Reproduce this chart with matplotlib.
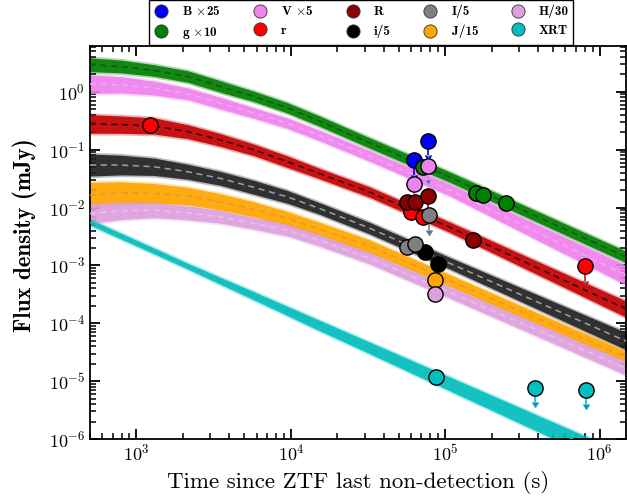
import numpy as np
import matplotlib.pyplot as plt
from matplotlib.lines import Line2D
from matplotlib.ticker import LogLocator, FuncFormatter, NullFormatter

plt.rcParams['mathtext.fontset'] = 'cm'
plt.rcParams['axes.formatter.use_mathtext'] = True

# ---- model bands (median flux in mJy, half width of band in dex) ----
t_model = [500, 800, 1300, 2150, 3500, 5800, 9500, 15400, 32400, 107000, 1.5e6]

g_med = [2.94, 2.74, 2.34, 1.84, 1.236, 0.829, 0.528, 0.31, 0.1306, 0.0336, 0.00138]
g_wid = [0.12, 0.11, 0.10, 0.10, 0.10, 0.09, 0.09, 0.09, 0.09, 0.09, 0.10]
v_med = [1.36, 1.32, 1.16, 0.923, 0.637, 0.428, 0.287, 0.175, 0.0778, 0.0200, 0.00067]
v_wid = [0.16, 0.14, 0.12, 0.10, 0.10, 0.09, 0.09, 0.09, 0.09, 0.10, 0.17]
r_med = [0.279, 0.271, 0.257, 0.205, 0.147, 0.0988, 0.0620, 0.0385, 0.0185, 0.00457, 0.000173]
r_wid = [0.16, 0.15, 0.14, 0.12, 0.11, 0.10, 0.10, 0.09, 0.09, 0.09, 0.14]
i_med = [0.0543, 0.0543, 0.0507, 0.0416, 0.0319, 0.0223, 0.0153, 0.0096, 0.0044, 0.00109, 4.84e-5]
i_wid = [0.19, 0.17, 0.15, 0.13, 0.12, 0.12, 0.11, 0.10, 0.10, 0.10, 0.15]
j_med = [0.0164, 0.0180, 0.0176, 0.0158, 0.01256, 0.00927, 0.00647, 0.0042, 0.00214, 0.00055, 2.55e-5]
j_wid = [0.22, 0.19, 0.17, 0.15, 0.14, 0.13, 0.12, 0.12, 0.11, 0.10, 0.10]
h_med = [0.00791, 0.00877, 0.00902, 0.00810, 0.00690, 0.00530, 0.00406, 0.0027, 0.00133, 0.000342, 1.65e-5]
h_wid = [0.17, 0.15, 0.13, 0.12, 0.11, 0.10, 0.10, 0.10, 0.10, 0.10, 0.12]
x_med = [5.6e-3, 3.18e-3, 1.78e-3, 9.7e-4, 5.4e-4, 2.96e-4, 1.63e-4, 9.1e-5, 3.75e-5, 8.95e-6, 3.77e-7]
x_wid = [0.05, 0.05, 0.05, 0.05, 0.06, 0.07, 0.08, 0.09, 0.10, 0.12, 0.16]

# ---- observed points (mJy, already scaled) ----
B_t = [7.67e4, 6.28e4]
B_f = [0.143, 0.066]
B_ul = [True, True]
g_t = [7.12e4, 1.58e5, 1.76e5, 2.49e5]
g_f = [0.0495, 0.018, 0.0164, 0.0118]
g_ul = [False, False, False, False]
V_t = [7.74e4, 6.28e4]
V_f = [0.0528, 0.0255]
V_ul = [True, True]
r_t = [1220, 6.04e4, 7.18e4, 8.0e5]
r_f = [0.268, 0.00822, 0.0069, 0.00098]
r_ul = [False, False, False, True]
R_t = [5.61e4, 6.34e4, 7.74e4, 1.51e5]
R_f = [0.01226, 0.01226, 0.0158, 0.00272]
R_ul = [False, False, True, False]
i_t = [7.37e4, 8.98e4]
i_f = [0.0017, 0.00107]
i_ul = [False, False]
I_t = [5.61e4, 6.34e4, 7.85e4]
I_f = [0.00208, 0.00239, 0.00738]
I_ul = [False, False, True]
J_t = [8.55e4]
J_f = [0.00055]
J_ul = [False]
H_t = [8.55e4]
H_f = [0.000325]
H_ul = [False]
X_t = [8.77e4, 3.8e5, 8.13e5]
X_f = [1.16e-5, 7.7e-6, 7.1e-6]
X_ul = [False, True, True]

x_ticks = [1e3, 1e4, 1e5, 1e6]
y_ticks = [1e-6, 1e-5, 1e-4, 1e-3, 1e-2, 1e-1, 1e0]

fig = plt.figure(figsize=(6.27, 4.97), dpi=100)
ax = fig.add_axes([90 / 627, 58 / 497, 536 / 627, 393 / 497])

bands = [
    (g_med, g_wid, 'green', '#0a5a0a'),
    (v_med, v_wid, 'violet', '#f4a8f4'),
    (r_med, r_wid, '#c20000', '#3a0000'),
    (i_med, i_wid, '#222222', '#a0a0a0'),
    (j_med, j_wid, 'orange', '#e89a20'),
    (h_med, h_wid, 'plum', '#eac0ea'),
    (x_med, x_wid, 'c', '#30b0b0'),
]
for med, wid, col, dcol in bands:
    med = np.array(med)
    wid = np.array(wid)
    ax.fill_between(t_model, med * 10 ** (-wid - 0.03), med * 10 ** (wid + 0.03),
                    color=col, alpha=0.3, lw=0, zorder=1)
    ax.fill_between(t_model, med * 10 ** -wid, med * 10 ** wid,
                    color=col, alpha=0.9, lw=0, zorder=2)
    ax.plot(t_model, med, ls=(0, (4, 3)), color=dcol, lw=1.1, zorder=3)

points = [
    (B_t, B_f, B_ul, 'blue'),
    (g_t, g_f, g_ul, 'green'),
    (V_t, V_f, V_ul, 'violet'),
    (r_t, r_f, r_ul, 'red'),
    (R_t, R_f, R_ul, 'darkred'),
    (i_t, i_f, i_ul, 'black'),
    (I_t, I_f, I_ul, 'gray'),
    (J_t, J_f, J_ul, 'orange'),
    (H_t, H_f, H_ul, 'plum'),
    (X_t, X_f, X_ul, 'c'),
]
z = 5
for t, f, ul, col in points:
    t = np.array(t)
    f = np.array(f)
    ul = np.array(ul)
    if ul.any():
        ax.errorbar(t[ul], f[ul], yerr=0.44 * f[ul], uplims=True, fmt='none',
                    ecolor=col, elinewidth=1.2, capsize=2.2, zorder=z)
    ax.plot(t, f, 'o', ms=11, mfc=col, mec='k', mew=1, zorder=z + 1)
    z += 2

ax.set_xscale('log')
ax.set_yscale('log')
ax.set_xticks(x_ticks)
ax.set_yticks(y_ticks)
ax.set_xlim(500, 1.48e6)
ax.set_ylim(1e-6, 6.2)

fmt = FuncFormatter(lambda v, p: r'$\mathbf{10^{%d}}$' % round(np.log10(v)))
for a in (ax.xaxis, ax.yaxis):
    a.set_minor_locator(LogLocator(base=10, subs=np.arange(2, 10), numticks=100))
    a.set_major_formatter(fmt)
    a.set_minor_formatter(NullFormatter())
ax.tick_params(which='both', direction='in', top=True, right=True, labelsize=13)
ax.tick_params(which='major', length=7, width=1.3)
ax.tick_params(which='minor', length=4, width=1.1)
for s in ax.spines.values():
    s.set_linewidth(1.3)

ax.set_xlabel('Time since ZTF last non-detection (s)', family='cmr10', fontsize=16.5)
ax.xaxis.set_label_coords(0.5, -0.082)
ax.xaxis.label.set_va('top')
ax.set_ylabel('Flux density (mJy)', family='cmb10', fontsize=16.5)
ax.yaxis.set_label_coords(-0.098, 0.52)

labels = [r'B $\times$25', r'g $\times$10', r'V $\times$5', 'r', 'R', 'i/5',
          'I/5', 'J/15', 'H/30', 'XRT']
handles = [Line2D([], [], marker='o', ls='none', mfc=p[3], mec='#333333', mew=0.6, ms=9.5)
           for p in points]
leg = ax.legend(handles, labels, ncol=5, loc='lower center', bbox_to_anchor=(0.505, 1.0),
                borderaxespad=0.1, fancybox=False, edgecolor='k', framealpha=1,
                prop={'family': 'cmb10', 'size': 9.5}, handletextpad=1.0,
                columnspacing=2.4, handlelength=1.2, borderpad=0.3, labelspacing=0.5)
leg.get_frame().set_linewidth(1.0)

fig.savefig('out.png', dpi=100)
